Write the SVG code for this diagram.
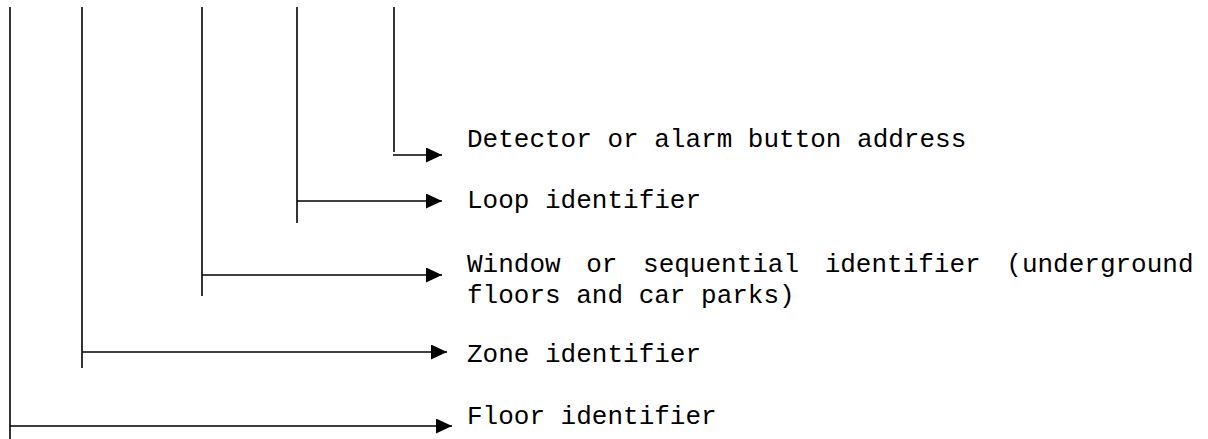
<svg xmlns="http://www.w3.org/2000/svg" width="1208" height="439" viewBox="0 0 1208 439">
  <style>
    .ln { stroke: #000; stroke-width: 1.6; fill: none; }
    .lbl { font-family: "Liberation Mono", "Courier New", monospace; font-size: 26px; fill: #000; }
  </style>
  <defs>
    <marker id="arr" markerUnits="userSpaceOnUse" markerWidth="16" markerHeight="15" refX="16" refY="7.5" orient="auto">
      <path d="M0,0 L16,7.5 L0,15 Z" fill="#000"/>
    </marker>
  </defs>
  <rect width="1208" height="439" fill="#fff"/>
  <g id="connectors">
    <line class="ln" x1="10" y1="7" x2="10" y2="439"/>
    <line class="ln" x1="10" y1="426" x2="452" y2="426" marker-end="url(#arr)"/>
    <line class="ln" x1="82" y1="7" x2="82" y2="368"/>
    <line class="ln" x1="82" y1="352" x2="447" y2="352" marker-end="url(#arr)"/>
    <line class="ln" x1="202" y1="7" x2="202" y2="296"/>
    <line class="ln" x1="202" y1="275" x2="442" y2="275" marker-end="url(#arr)"/>
    <line class="ln" x1="297" y1="7" x2="297" y2="223"/>
    <line class="ln" x1="297" y1="201" x2="442" y2="201" marker-end="url(#arr)"/>
    <line class="ln" x1="394" y1="7" x2="394" y2="152"/>
    <line class="ln" x1="393" y1="155" x2="442" y2="155" marker-end="url(#arr)"/>
  </g>
  <g id="detector">
    <text class="lbl" x="467" y="147">Detector or alarm button address</text>
  </g>
  <g id="loop">
    <text class="lbl" x="467" y="208">Loop identifier</text>
  </g>
  <g id="window">
    <text class="lbl" x="467" y="272" word-spacing="10">Window or sequential identifier (underground</text>
    <text class="lbl" x="467" y="303">floors and car parks)</text>
  </g>
  <g id="zone">
    <text class="lbl" x="467" y="362">Zone identifier</text>
  </g>
  <g id="floor">
    <text class="lbl" x="467" y="424">Floor identifier</text>
  </g>
</svg>
